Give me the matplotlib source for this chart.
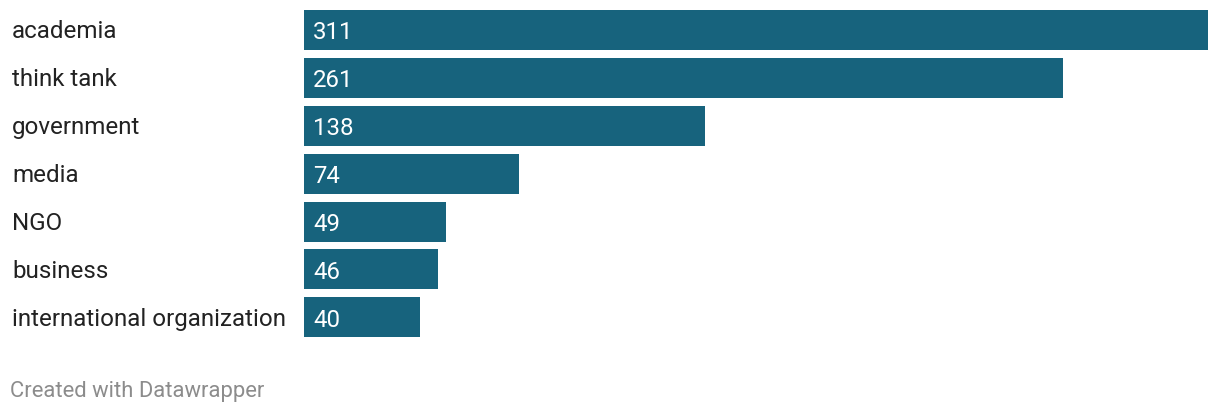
import matplotlib.pyplot as plt

categories = ["academia", "think tank", "government", "media", "NGO",
              "business", "international organization"]
counts = [311, 261, 138, 74, 49, 46, 40]

W, H = 1220, 414
plt.rcParams['font.family'] = ['Roboto', 'DejaVu Sans']
fig = plt.figure(figsize=(W / 100, H / 100), dpi=100)

# axes placed in pixel terms: bars from x=304 to 1208, rows 48px apart
ax = fig.add_axes([304 / W, (H - 342.5) / H, 904 / W, 336 / H])
ypos = list(range(len(categories)))
ax.barh(ypos, counts, height=40 / 48, color="#17637d", edgecolor="none")
ax.set_xlim(0, max(counts))
ax.set_ylim(len(categories) - 0.5, -0.5)
ax.axis("off")

for y, v in zip(ypos, counts):
    ax.text(9 / 904 * max(counts), y - 0.02, str(v), color="white",
            fontsize=17.3, va="center_baseline", ha="left")

# category labels in figure coords aligned with rows
for i, cat in enumerate(categories):
    yc = 29 + 48 * i
    fig.text(12 / W, 1 - yc / H, cat, fontsize=17.35, color="#222222",
             va="center_baseline", ha="left")

fig.text(10 / W, 1 - 389.5 / H, "Created with Datawrapper", fontsize=15.85,
         color="#8c8c8c", va="center_baseline", ha="left")

plt.savefig("out.png", dpi=100)
